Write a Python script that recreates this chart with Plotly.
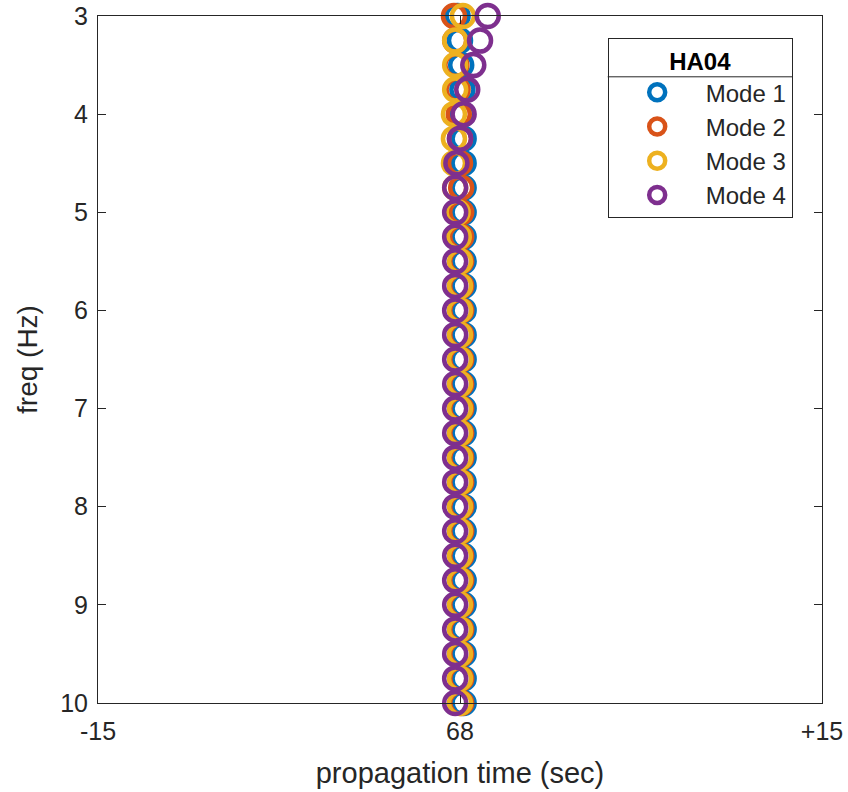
import plotly.graph_objects as go

freq = [3 + 0.25 * i for i in range(29)]

mode1 = [-0.10, 0.00, 0.05, 0.10, 0.12, 0.15, 0.15, 0.15, 0.15, 0.15, 0.15, 0.15, 0.15, 0.15, 0.15,
         0.15, 0.15, 0.15, 0.15, 0.15, 0.15, 0.15, 0.15, 0.15, 0.15, 0.15, 0.15, 0.15, 0.15]
mode2 = [-0.25, -0.20, -0.15, -0.10, -0.05, 0.00, 0.00, 0.05, 0.05, 0.05, 0.05, 0.05, 0.05, 0.05, 0.05,
         0.05, 0.05, 0.05, 0.05, 0.05, 0.05, 0.05, 0.05, 0.05, 0.05, 0.05, 0.05, 0.05, 0.05]
mode3 = [0.12, -0.20, -0.20, -0.20, -0.25, -0.25, -0.25, -0.20, -0.10, -0.05, 0.00, 0.00, 0.00, 0.00, 0.00,
         0.00, 0.00, 0.00, 0.00, 0.00, 0.00, 0.00, 0.00, 0.00, 0.00, 0.00, 0.00, 0.00, 0.00]
mode4 = [1.15, 0.83, 0.55, 0.30, 0.15, 0.00, -0.15, -0.20, -0.20, -0.20, -0.20, -0.20, -0.20, -0.20, -0.20,
         -0.20, -0.20, -0.20, -0.20, -0.20, -0.20, -0.20, -0.20, -0.20, -0.20, -0.20, -0.20, -0.20, -0.20]

modes = ["Mode 1", "Mode 2", "Mode 3", "Mode 4"]
colors = ["#0072BD", "#D95319", "#EDB120", "#7E2F8E"]
xtick_vals = [-15, 0, 15]
xtick_text = ["-15", "68", "+15"]
ytick_vals = [3, 4, 5, 6, 7, 8, 9, 10]

fig = go.Figure()
for name, vals, col in zip(modes, [mode1, mode2, mode3, mode4], colors):
    fig.add_trace(go.Scatter(
        x=vals, y=freq, mode="markers", name=name,
        marker=dict(symbol="circle-open", size=22, color=col, line=dict(width=4.5, color=col)),
        cliponaxis=False,
    ))

# separator line under the legend title
fig.add_shape(type="line", xref="paper", yref="paper", layer="above",
              x0=0.704, x1=0.9586, y0=0.9115, y1=0.9115,
              line=dict(color="#262626", width=1))

font = "Liberation Sans, Arial, sans-serif"
fig.update_layout(
    width=848, height=792,
    margin=dict(l=98, r=26, t=16, b=89, autoexpand=False),
    paper_bgcolor="white", plot_bgcolor="white",
    font=dict(family=font, size=24, color="#262626"),
    showlegend=True,
    legend=dict(
        x=0.704, y=0.968, xanchor="left", yanchor="top",
        bordercolor="#262626", borderwidth=1, bgcolor="rgba(255,255,255,0)",
        title=dict(text="<b>HA04</b>", side="top center", font=dict(size=24, color="black")),
        font=dict(size=24, color="#262626"),
        itemsizing="trace", itemwidth=87,
        tracegroupgap=0,
    ),
    xaxis=dict(
        range=[-15, 15], tickvals=xtick_vals, ticktext=xtick_text,
        ticks="inside", ticklen=8, tickcolor="#262626",
        showline=True, linecolor="#262626", linewidth=1, mirror="ticks",
        showgrid=False, zeroline=False, automargin=False,
        ticklabelstandoff=6,
        title=dict(text="propagation time (sec)", standoff=18, font=dict(size=29)),
        tickfont=dict(size=25),
    ),
    yaxis=dict(
        range=[10, 3], tickvals=ytick_vals,
        ticks="inside", ticklen=8, tickcolor="#262626",
        showline=True, linecolor="#262626", linewidth=1, mirror="ticks",
        showgrid=False, zeroline=False, automargin=False,
        ticklabelstandoff=4,
        title=dict(text="freq (Hz)", standoff=14, font=dict(size=28)),
        tickfont=dict(size=25),
    ),
)
fig.write_html("out.html")
